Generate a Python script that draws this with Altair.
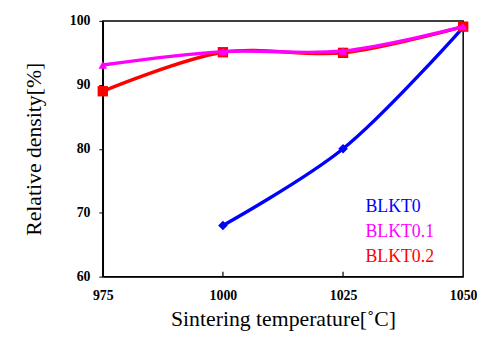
import altair as alt
import pandas as pd

temps_0 = [1000, 1025, 1050]
dens_0 = [68.0, 80.0, 99.0]
temps_1 = [975, 1000, 1025, 1050]
dens_1 = [93.1, 95.2, 95.3, 99.1]
temps_2 = [975, 1000, 1025, 1050]
dens_2 = [89.0, 95.1, 95.0, 99.1]
x_ticks = [975, 1000, 1025, 1050]
y_ticks = [60, 70, 80, 90, 100]
labels = ["BLKT0", "BLKT0.1", "BLKT0.2"]
colors = ["#0000ff", "#ff00ff", "#ff0000"]

FONT = "Liberation Serif"
W, H = 365, 259

xs = alt.Scale(domain=[975, 1050], nice=False)
ys = alt.Scale(domain=[60, 100], nice=False)

xax = alt.Axis(values=x_ticks, title="Sintering temperature[˚C]", format="d",
               labelFont=FONT, labelFontWeight="bold", labelFontSize=14, labelColor="black",
               titleFont=FONT, titleFontSize=22, titleFontWeight="normal", titleColor="black",
               tickSize=0, labelPadding=12, titlePadding=6, grid=False,
               domainColor="black", domainWidth=1.5, labelFlush=False)
yax = alt.Axis(values=y_ticks, title="Relative density[%]",
               labelFont=FONT, labelFontWeight="bold", labelFontSize=14, labelColor="black",
               titleFont=FONT, titleFontSize=22, titleFontWeight="normal", titleColor="black",
               tickSize=4, tickColor="black", labelPadding=9, titlePadding=24, grid=False,
               domainColor="black", domainWidth=1.5)


def series(t, d, color, shape, size):
    df = pd.DataFrame({"t": t, "d": d})
    base = alt.Chart(df)
    line = base.mark_line(color=color, strokeWidth=3.4, interpolate="catmull-rom").encode(
        x=alt.X("t:Q", scale=xs, axis=xax), y=alt.Y("d:Q", scale=ys, axis=yax))
    pts = base.mark_point(color=color, fill=color, filled=True, opacity=1, shape=shape, size=size).encode(
        x=alt.X("t:Q", scale=xs, axis=xax), y=alt.Y("d:Q", scale=ys, axis=yax))
    return line + pts


l0 = series(temps_0, dens_0, colors[0], "diamond", 95)
l2 = series(temps_2, dens_2, colors[2], "square", 110)
l1 = series(temps_1, dens_1, colors[1], "triangle-up", 75)

ticks_df = pd.DataFrame({"t": x_ticks[1:-1]})
ticks = alt.Chart(ticks_df).mark_rule(color="black", strokeWidth=1.2).encode(
    x=alt.X("t:Q", scale=xs, axis=xax), y=alt.value(H), y2=alt.value(H - 5))

leg_y = [189, 214, 239]
texts = []
for lab, col, yy in zip(labels, colors, leg_y):
    texts.append(alt.Chart(pd.DataFrame({"l": [lab]})).mark_text(
        font=FONT, fontSize=18, color=col, align="left", baseline="middle").encode(
        x=alt.value(266), y=alt.value(yy), text="l:N"))

chart = alt.layer(l0, l2, l1, ticks, *texts).properties(
    width=W, height=H,
    background="white",
    padding={"left": 15, "top": 4, "right": 0, "bottom": 0},
).configure_view(stroke="black", strokeWidth=1.5)

chart.save("out.html", embed_options={"renderer": "svg", "actions": False})
